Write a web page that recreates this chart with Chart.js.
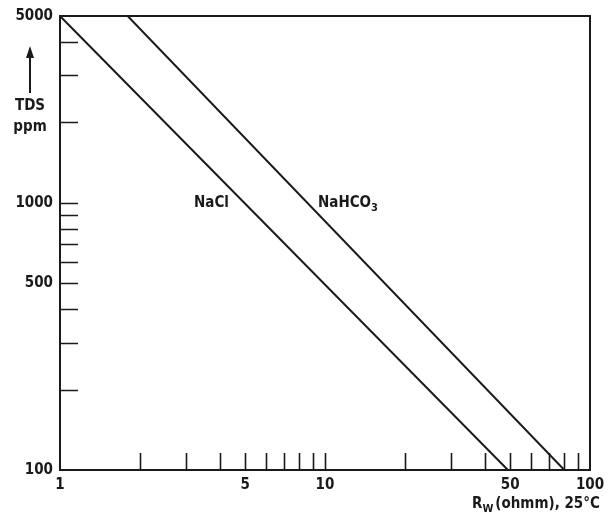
<!DOCTYPE html>
<html>
<head>
<meta charset="utf-8">
<script src="https://cdn.jsdelivr.net/npm/chart.js@4"></script>
<style>
  html, body { margin: 0; padding: 0; background: #fff; }
  #wrap { width: 613px; height: 519px; }
</style>
</head>
<body>
<div id="wrap"><canvas id="c" width="613" height="519"></canvas></div>
<script>
// ---- data ----
const xTickValues = [1, 2, 3, 4, 5, 6, 7, 8, 9, 10, 20, 30, 40, 50, 60, 70, 80, 90, 100];
const xTickLabels = [1, 5, 10, 50, 100];
const yTickValues = [100, 200, 300, 400, 500, 600, 700, 800, 900, 1000, 2000, 3000, 4000, 5000];
const yTickLabels = [100, 500, 1000, 5000];
const naclRw = [1, 49];
const naclTds = [5000, 100];
const nahco3Rw = [1.8, 80];
const nahco3Tds = [5000, 100];

const INK = '#1a1a1a';
const FONT = '"DejaVu Sans Condensed", "DejaVu Sans", sans-serif';

function pts(xs, ys) { return xs.map((x, i) => ({ x: x, y: ys[i] })); }

const decor = {
  id: 'decor',
  afterDatasetsDraw(chart) {
    const ctx = chart.ctx;
    const a = chart.chartArea;
    const xs = chart.scales.x, ys = chart.scales.y;
    ctx.save();
    ctx.strokeStyle = INK;
    ctx.lineWidth = 2;
    // frame
    ctx.strokeRect(a.left, a.top, a.right - a.left, a.bottom - a.top);
    // inward ticks
    ctx.lineWidth = 1.6;
    ctx.beginPath();
    xTickValues.forEach(v => {
      if (v <= xs.min || v >= xs.max) return;
      const px = Math.round(xs.getPixelForValue(v)) + 0.5;
      ctx.moveTo(px, a.bottom);
      ctx.lineTo(px, a.bottom - 17);
    });
    yTickValues.forEach(v => {
      if (v <= ys.min || v >= ys.max) return;
      const py = Math.round(ys.getPixelForValue(v)) + 0.5;
      ctx.moveTo(a.left, py);
      ctx.lineTo(a.left + 18, py);
    });
    ctx.stroke();

    ctx.fillStyle = INK;
    ctx.textBaseline = 'middle';
    // y title with arrow
    ctx.lineWidth = 2;
    ctx.beginPath();
    ctx.moveTo(30, 93);
    ctx.lineTo(30, 56);
    ctx.stroke();
    ctx.beginPath();
    ctx.moveTo(30, 46);
    ctx.lineTo(26, 58);
    ctx.lineTo(34, 58);
    ctx.closePath();
    ctx.fill();
    ctx.font = 'bold 15px ' + FONT;
    ctx.textAlign = 'center';
    ctx.fillText('TDS', 30, 106);
    ctx.fillText('ppm', 30, 127);

    // x title  R_W (ohmm), 25°C
    ctx.textAlign = 'left';
    let x0 = 472;
    ctx.font = 'bold 15px ' + FONT;
    ctx.fillText('R', x0, 504);
    x0 += ctx.measureText('R').width;
    ctx.font = 'bold 11px ' + FONT;
    ctx.fillText('W', x0, 509);
    x0 += ctx.measureText('W').width + 2;
    ctx.font = 'bold 15px ' + FONT;
    ctx.fillText('(ohmm), 25°C', x0, 504);

    // curve labels
    ctx.font = 'bold 15px ' + FONT;
    ctx.fillText('NaCl', 194, 203);
    let x1 = 318;
    ctx.fillText('NaHCO', x1, 203);
    x1 += ctx.measureText('NaHCO').width;
    ctx.font = 'bold 11px ' + FONT;
    ctx.fillText('3', x1, 208);
    ctx.restore();
  }
};

new Chart(document.getElementById('c'), {
  type: 'line',
  data: {
    datasets: [
      { label: 'NaCl', data: pts(naclRw, naclTds), borderColor: INK, borderWidth: 2, pointRadius: 0, fill: false, tension: 0 },
      { label: 'NaHCO3', data: pts(nahco3Rw, nahco3Tds), borderColor: INK, borderWidth: 2, pointRadius: 0, fill: false, tension: 0 }
    ]
  },
  options: {
    responsive: false,
    animation: false,
    devicePixelRatio: 1,
    layout: { padding: { top: 13, right: 23, left: 0, bottom: 0 } },
    plugins: { legend: { display: false }, tooltip: { enabled: false } },
    scales: {
      x: {
        type: 'logarithmic',
        min: 1, max: 100,
        afterBuildTicks(scale) { scale.ticks = xTickValues.map(v => ({ value: v })); },
        afterFit(scale) { scale.height = 49; },
        grid: { display: false, drawTicks: false },
        border: { display: false },
        ticks: {
          autoSkip: false, maxRotation: 0, padding: 6, color: INK,
          font: { family: FONT, size: 15, weight: 'bold' },
          callback: (v) => xTickLabels.includes(v) ? String(v) : ''
        }
      },
      y: {
        type: 'logarithmic',
        min: 100, max: 5000,
        afterBuildTicks(scale) { scale.ticks = yTickValues.map(v => ({ value: v })); },
        afterFit(scale) { scale.width = 60; },
        grid: { display: false, drawTicks: false },
        border: { display: false },
        ticks: {
          autoSkip: false, padding: 7, color: INK,
          font: { family: FONT, size: 15, weight: 'bold' },
          callback: (v) => yTickLabels.includes(v) ? String(v) : ''
        }
      }
    }
  },
  plugins: [decor]
});
</script>
</body>
</html>
